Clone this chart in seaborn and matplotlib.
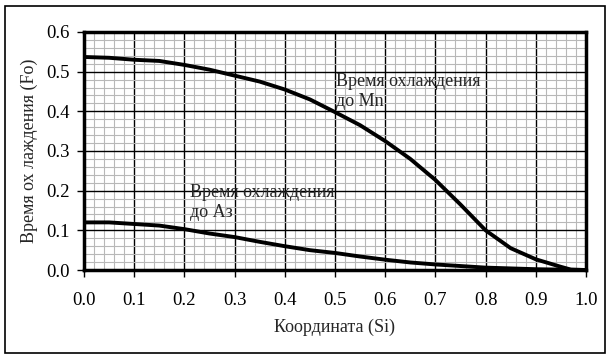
import pandas as pd
import matplotlib.pyplot as plt
import seaborn as sns
from matplotlib.patches import Rectangle
from matplotlib.ticker import MultipleLocator

# data
coord = [0.0, 0.05, 0.10, 0.15, 0.20, 0.25, 0.30, 0.35, 0.40, 0.45, 0.50,
         0.55, 0.60, 0.65, 0.70, 0.75, 0.80, 0.85, 0.90, 0.95, 0.97, 1.0]
time_mn = [0.537, 0.535, 0.530, 0.527, 0.517, 0.505, 0.490, 0.475, 0.455, 0.430, 0.398,
           0.365, 0.325, 0.280, 0.227, 0.165, 0.100, 0.055, 0.027, 0.008, 0.001, 0.0]
time_a3 = [0.120, 0.120, 0.116, 0.112, 0.103, 0.092, 0.083, 0.071, 0.060, 0.050, 0.043,
           0.034, 0.026, 0.019, 0.014, 0.010, 0.006, 0.004, 0.002, 0.001, 0.0005, 0.0]

df = pd.DataFrame({"x": coord * 2,
                   "y": time_mn + time_a3,
                   "curve": ["Mn"] * len(coord) + ["A3"] * len(coord)})

sns.set_style("white")
plt.rcParams["font.family"] = ["Liberation Serif", "DejaVu Serif"]

fig = plt.figure(figsize=(6.14, 3.59), dpi=100)
ax = fig.add_axes([0.1368, 0.2479, 0.8176, 0.6630])

sns.lineplot(data=df, x="x", y="y", units="curve", estimator=None,
             color="black", linewidth=2.8, ax=ax, legend=False, zorder=5)

ax.set_xlim(0, 1.0)
ax.set_ylim(0, 0.6)
ax.xaxis.set_major_locator(MultipleLocator(0.1))
ax.yaxis.set_major_locator(MultipleLocator(0.1))
ax.xaxis.set_minor_locator(MultipleLocator(0.02))
ax.yaxis.set_minor_locator(MultipleLocator(0.02))
ax.grid(which="minor", color="#b8b8b8", linewidth=0.8)
ax.grid(which="major", color="black", linewidth=1.0)
ax.set_axisbelow(True)

ax.set_xticklabels([f"{v:.1f}" for v in ax.get_xticks()])
ax.set_yticklabels([f"{v:.1f}" for v in ax.get_yticks()])
ax.tick_params(which="major", direction="out", length=5, width=1, colors="black",
               labelsize=13.5, bottom=True, left=True, pad=5)
ax.tick_params(axis="x", pad=11)
ax.tick_params(which="minor", length=0)

for s in ax.spines.values():
    s.set_color("black")
    s.set_linewidth(2.5)

ax.set_xlabel("Координата (Si)", fontsize=13, labelpad=7)
ax.set_ylabel("Время ох лаждения (Fo)", fontsize=13, labelpad=6)

ax.text(0.502, 0.497, "Время охлаждения\nдо Mn", fontsize=13, va="top", ha="left",
        linespacing=1.25, zorder=6)
ax.text(0.212, 0.217, "Время охлаждения\nдо Аз", fontsize=13, va="top", ha="left",
        linespacing=1.25, zorder=6)

fig.patches.append(Rectangle((5 / 614, 6 / 359), 600 / 614, 347 / 359,
                             transform=fig.transFigure, fill=False,
                             edgecolor="black", linewidth=1.2))

plt.savefig("out.png", dpi=100)
plt.close()
